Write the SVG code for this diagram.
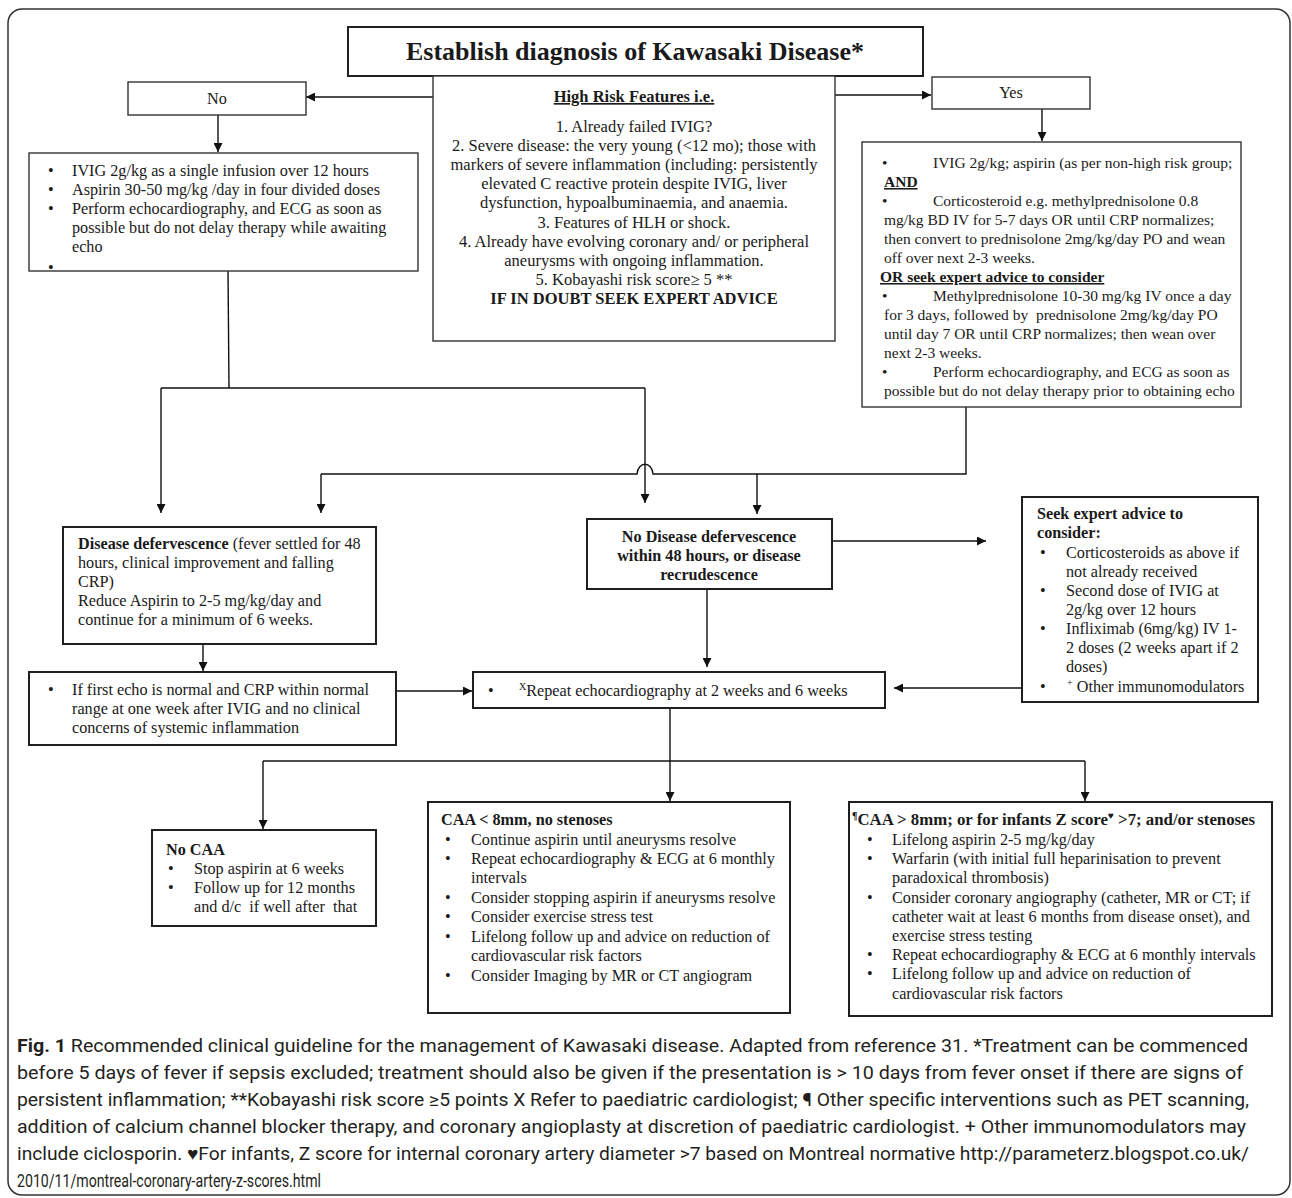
<svg xmlns="http://www.w3.org/2000/svg" width="1292" height="1198" viewBox="0 0 1292 1198">
<defs>
<style>
.t{font-family:'Liberation Serif','Times New Roman',serif;font-size:16.2px;fill:#1a1a1a}
.b{font-weight:bold}
.u{text-decoration:underline}
.m{text-anchor:middle}
.box{fill:#fff;stroke:#1f1f1f;stroke-width:2}
.thin{stroke:#333;stroke-width:1.4}
.c{fill:none;stroke:#111;stroke-width:1.4}
.cap{font-family:'Roboto','Liberation Sans',sans-serif;font-size:18.5px;fill:#231f20}
.sup{font-size:10px}
</style>
<marker id="arr" viewBox="0 0 10 10" refX="10" refY="5" markerWidth="9" markerHeight="9" markerUnits="userSpaceOnUse" orient="auto"><path d="M0,0 L10,5 L0,10 z" fill="#111"/></marker>
</defs>
<rect x="8" y="9" width="1282" height="1186" rx="14" fill="#fff" stroke="#333" stroke-width="1.5"/>

<g id="connectors">
<line class="c" x1="433" y1="97" x2="306" y2="97" marker-end="url(#arr)"/>
<line class="c" x1="835" y1="95" x2="931" y2="95" marker-end="url(#arr)"/>
<line class="c" x1="218" y1="115" x2="218" y2="152" marker-end="url(#arr)"/>
<line class="c" x1="1042" y1="109" x2="1042" y2="141" marker-end="url(#arr)"/>
<polyline class="c" points="228,271 229,388"/>
<line class="c" x1="161" y1="388" x2="645" y2="388"/>
<line class="c" x1="161" y1="388" x2="161" y2="513" marker-end="url(#arr)"/>
<line class="c" x1="645" y1="388" x2="645" y2="503" marker-end="url(#arr)"/>
<path class="c" d="M966,407 L966,474 L653,474 C652,461 638,461 637,474 L321,474"/>
<line class="c" x1="321" y1="474" x2="321" y2="513" marker-end="url(#arr)"/>
<line class="c" x1="757" y1="474" x2="757" y2="514" marker-end="url(#arr)"/>
<line class="c" x1="832" y1="541" x2="986" y2="541" marker-end="url(#arr)"/>
<line class="c" x1="203" y1="644" x2="203" y2="671" marker-end="url(#arr)"/>
<line class="c" x1="707" y1="589" x2="707" y2="667" marker-end="url(#arr)"/>
<line class="c" x1="396" y1="691" x2="472" y2="691" marker-end="url(#arr)"/>
<line class="c" x1="1021" y1="688" x2="894" y2="688" marker-end="url(#arr)"/>
<line class="c" x1="670" y1="708" x2="670" y2="761"/>
<line class="c" x1="263" y1="761" x2="1085" y2="761"/>
<line class="c" x1="263" y1="761" x2="263" y2="829" marker-end="url(#arr)"/>
<line class="c" x1="670" y1="761" x2="670" y2="801" marker-end="url(#arr)"/>
<line class="c" x1="1085" y1="761" x2="1085" y2="801" marker-end="url(#arr)"/>
</g>

<g id="title">
<rect class="box" x="348" y="27" width="575" height="49"/>
<text class="t b m" x="635" y="60" style="font-size:26px">Establish diagnosis of Kawasaki Disease*</text>
</g>

<g id="no">
<rect class="box thin" x="128" y="82" width="178" height="33"/>
<text class="t m" x="217" y="104">No</text>
</g>

<g id="yes">
<rect class="box thin" x="932" y="77" width="158" height="32"/>
<text class="t m" x="1011" y="98">Yes</text>
</g>

<g id="highrisk">
<rect class="box thin" x="433" y="76" width="402" height="265"/>
<g class="t m" style="font-size:16.5px">
<text class="b u" x="634" y="102">High Risk Features i.e.</text>
<text x="634" y="132">1. Already failed IVIG?</text>
<text x="634" y="151">2. Severe disease: the very young (&lt;12 mo); those with</text>
<text x="634" y="170">markers of severe inflammation (including: persistently</text>
<text x="634" y="189">elevated C reactive protein despite IVIG, liver</text>
<text x="634" y="208">dysfunction, hypoalbuminaemia, and anaemia.</text>
<text x="634" y="228">3. Features of HLH or shock.</text>
<text x="634" y="247">4. Already have evolving coronary and/ or peripheral</text>
<text x="634" y="266">aneurysms with ongoing inflammation.</text>
<text x="634" y="285">5. Kobayashi risk score≥ 5 **</text>
<text class="b" x="634" y="304">IF IN DOUBT SEEK EXPERT ADVICE</text>
</g>
</g>

<g id="standard">
<rect class="box thin" x="29" y="153" width="389" height="118"/>
<g class="t">
<text x="48" y="176">•</text><text x="72" y="176">IVIG 2g/kg as a single infusion over 12 hours</text>
<text x="48" y="195">•</text><text x="72" y="195">Aspirin 30-50 mg/kg /day in four divided doses</text>
<text x="48" y="214">•</text><text x="72" y="214">Perform echocardiography, and ECG as soon as</text>
<text x="72" y="233">possible but do not delay therapy while awaiting</text>
<text x="72" y="252">echo</text>
<text x="48" y="273">•</text>
</g>
</g>

<g id="highrisk-treatment">
<rect class="box thin" x="862" y="142" width="379" height="265"/>
<g class="t" style="font-size:15.5px">
<text x="882" y="168">•</text><text x="933" y="168">IVIG 2g/kg; aspirin (as per non-high risk group;</text>
<text class="b u" x="884" y="187">AND</text>
<text x="882" y="206">•</text><text x="933" y="206">Corticosteroid e.g. methylprednisolone 0.8</text>
<text x="884" y="225">mg/kg BD IV for 5-7 days OR until CRP normalizes;</text>
<text x="884" y="244">then convert to prednisolone 2mg/kg/day PO and wean</text>
<text x="884" y="263">off over next 2-3 weeks.</text>
<text class="b u" x="880" y="282">OR seek expert advice to consider</text>
<text x="882" y="301">•</text><text x="933" y="301">Methylprednisolone 10-30 mg/kg IV once a day</text>
<text x="884" y="320" xml:space="preserve">for 3 days, followed by  prednisolone 2mg/kg/day PO</text>
<text x="884" y="339">until day 7 OR until CRP normalizes; then wean over</text>
<text x="884" y="358">next 2-3 weeks.</text>
<text x="882" y="377">•</text><text x="933" y="377">Perform echocardiography, and ECG as soon as</text>
<text x="884" y="396">possible but do not delay therapy prior to obtaining echo</text>
</g>
</g>

<g id="defervescence">
<rect class="box" x="63" y="527" width="313" height="117"/>
<g class="t">
<text x="78" y="549"><tspan class="b">Disease defervescence</tspan> (fever settled for 48</text>
<text x="78" y="568">hours, clinical improvement and falling</text>
<text x="78" y="587">CRP)</text>
<text x="78" y="606">Reduce Aspirin to 2-5 mg/kg/day and</text>
<text x="78" y="625">continue for a minimum of 6 weeks.</text>
</g>
</g>

<g id="no-defervescence">
<rect class="box" x="587" y="519" width="245" height="70"/>
<g class="t b m">
<text x="709" y="542">No Disease defervescence</text>
<text x="709" y="561">within 48 hours, or disease</text>
<text x="709" y="580">recrudescence</text>
</g>
</g>

<g id="expert">
<rect class="box" x="1022" y="497" width="236" height="205"/>
<g class="t">
<text class="b" x="1037" y="519">Seek expert advice to</text>
<text class="b" x="1037" y="538">consider:</text>
<text x="1040" y="558">•</text><text x="1066" y="558">Corticosteroids as above if</text>
<text x="1066" y="577">not already received</text>
<text x="1040" y="596">•</text><text x="1066" y="596">Second dose of IVIG at</text>
<text x="1066" y="615">2g/kg over 12 hours</text>
<text x="1040" y="634">•</text><text x="1066" y="634">Infliximab (6mg/kg) IV 1-</text>
<text x="1066" y="653">2 doses (2 weeks apart if 2</text>
<text x="1066" y="672">doses)</text>
<text x="1040" y="692">•</text><text x="1067" y="692"><tspan class="sup" dy="-6">+</tspan><tspan dy="6"> Other immunomodulators</tspan></text>
</g>
</g>

<g id="normal-echo">
<rect class="box" x="29" y="672" width="367" height="73"/>
<g class="t">
<text x="48" y="695">•</text><text x="72" y="695">If first echo is normal and CRP within normal</text>
<text x="72" y="714">range at one week after IVIG and no clinical</text>
<text x="72" y="733">concerns of systemic inflammation</text>
</g>
</g>

<g id="repeat-echo">
<rect class="box" x="473" y="672" width="412" height="36"/>
<g class="t">
<text x="488" y="696">•</text>
<text x="519" y="696"><tspan class="sup" dy="-6">X</tspan><tspan dy="6">Repeat echocardiography at 2 weeks and 6 weeks</tspan></text>
</g>
</g>

<g id="no-caa">
<rect class="box" x="152" y="830" width="224" height="96"/>
<g class="t">
<text class="b" x="166" y="855">No CAA</text>
<text x="168" y="874">•</text><text x="194" y="874">Stop aspirin at 6 weeks</text>
<text x="168" y="893">•</text><text x="194" y="893">Follow up for 12 months</text>
<text x="194" y="912" xml:space="preserve">and d/c  if well after  that</text>
</g>
</g>

<g id="caa-small">
<rect class="box" x="428" y="802" width="362" height="211"/>
<g class="t">
<text class="b" x="441" y="825">CAA &lt; 8mm, no stenoses</text>
<text x="445" y="845">•</text><text x="471" y="845">Continue aspirin until aneurysms resolve</text>
<text x="445" y="864">•</text><text x="471" y="864">Repeat echocardiography &amp; ECG at 6 monthly</text>
<text x="471" y="883">intervals</text>
<text x="445" y="903">•</text><text x="471" y="903">Consider stopping aspirin if aneurysms resolve</text>
<text x="445" y="922">•</text><text x="471" y="922">Consider exercise stress test</text>
<text x="445" y="942">•</text><text x="471" y="942">Lifelong follow up and advice on reduction of</text>
<text x="471" y="961">cardiovascular risk factors</text>
<text x="445" y="981">•</text><text x="471" y="981">Consider Imaging by MR or CT angiogram</text>
</g>
</g>

<g id="caa-large">
<rect class="box" x="849" y="802" width="423" height="214"/>
<g class="t">
<text class="b" x="852" y="825" style="font-size:16.8px"><tspan class="sup" dy="-6">¶</tspan><tspan dy="6">CAA &gt; 8mm; or for infants Z score</tspan><tspan class="sup" dy="-6">♥</tspan><tspan dy="6"> &gt;7; and/or stenoses</tspan></text>
<text x="867" y="845">•</text><text x="892" y="845">Lifelong aspirin 2-5 mg/kg/day</text>
<text x="867" y="864">•</text><text x="892" y="864">Warfarin (with initial full heparinisation to prevent</text>
<text x="892" y="883">paradoxical thrombosis)</text>
<text x="867" y="903">•</text><text x="892" y="903">Consider coronary angiography (catheter, MR or CT; if</text>
<text x="892" y="922">catheter wait at least 6 months from disease onset), and</text>
<text x="892" y="941">exercise stress testing</text>
<text x="867" y="960">•</text><text x="892" y="960">Repeat echocardiography &amp; ECG at 6 monthly intervals</text>
<text x="867" y="979">•</text><text x="892" y="979">Lifelong follow up and advice on reduction of</text>
<text x="892" y="999">cardiovascular risk factors</text>
</g>
</g>

<g id="caption" class="cap">
<text x="17" y="1052" textLength="1231" lengthAdjust="spacingAndGlyphs"><tspan font-weight="bold">Fig. 1</tspan> Recommended clinical guideline for the management of Kawasaki disease. Adapted from reference 31. *Treatment can be commenced</text>
<text x="17" y="1079" textLength="1226" lengthAdjust="spacingAndGlyphs">before 5 days of fever if sepsis excluded; treatment should also be given if the presentation is &gt; 10 days from fever onset if there are signs of</text>
<text x="17" y="1106" textLength="1232" lengthAdjust="spacingAndGlyphs">persistent inflammation; **Kobayashi risk score ≥5 points X Refer to paediatric cardiologist; ¶ Other specific interventions such as PET scanning,</text>
<text x="17" y="1133" textLength="1229" lengthAdjust="spacingAndGlyphs">addition of calcium channel blocker therapy, and coronary angioplasty at discretion of paediatric cardiologist. + Other immunomodulators may</text>
<text x="17" y="1160" textLength="1232" lengthAdjust="spacingAndGlyphs">include ciclosporin. ♥For infants, Z score for internal coronary artery diameter &gt;7 based on Montreal normative http://parameterz.blogspot.co.uk/</text>
<text x="17" y="1187" textLength="304" lengthAdjust="spacingAndGlyphs">2010/11/montreal-coronary-artery-z-scores.html</text>
</g>
</svg>
